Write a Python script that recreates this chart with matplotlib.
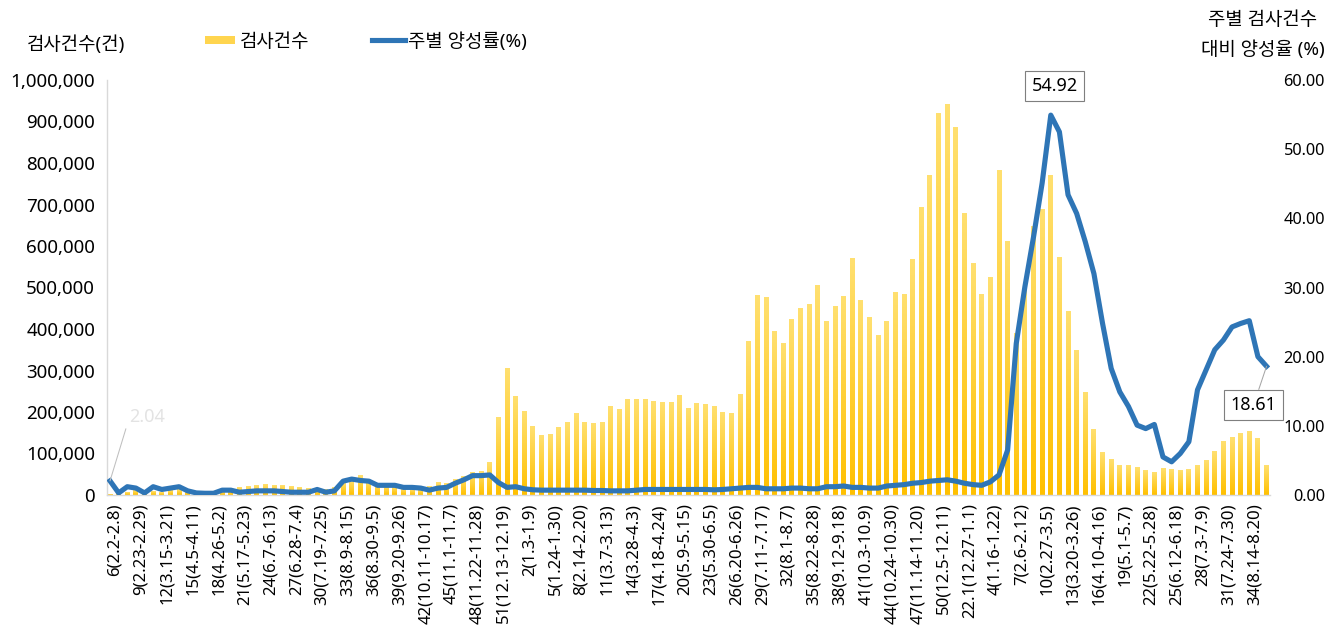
import numpy as np
import matplotlib
matplotlib.use('Agg')
import matplotlib.pyplot as plt
import matplotlib.transforms as mtransforms
from matplotlib.colors import LinearSegmentedColormap
from matplotlib.patches import Rectangle
from matplotlib.lines import Line2D
from matplotlib.ticker import FuncFormatter, FixedLocator, MultipleLocator

plt.rcParams['font.family'] = ['Noto Sans', 'Noto Sans CJK KR']

# weekly test counts (건)
tests = [
    2000, 4000, 6000, 10000, 8000, 9000, 7000, 10000, 13000, 9000,
    7000, 6000, 7000, 9000, 13000, 17000, 21000, 24000, 26000, 23000,
    22000, 20000, 18000, 16000, 14000, 13000, 18000, 30000, 36000, 47000,
    34000, 26000, 22000, 20000, 16000, 14000, 14000, 20000, 30000, 27000,
    37000, 45000, 55000, 57000, 78000, 186000, 305000, 237000, 202000, 165000,
    143000, 146000, 162000, 174000, 197000, 174000, 172000, 174000, 213000, 207000,
    231000, 229000, 230000, 226000, 224000, 222000, 239000, 209000, 221000, 217000,
    214000, 198000, 197000, 243000, 369000, 481000, 476000, 395000, 364000, 423000,
    449000, 458000, 506000, 419000, 455000, 478000, 570000, 469000, 427000, 384000,
    419000, 489000, 484000, 568000, 693000, 771000, 920000, 940000, 886000, 678000,
    557000, 483000, 525000, 783000, 612000, 390000, 496000, 647000, 689000, 771000,
    573000, 443000, 348000, 247000, 157000, 102000, 86000, 71000, 71000, 66000,
    60000, 55000, 63000, 62000, 59000, 62000, 71000, 84000, 104000, 128000,
    138000, 147000, 154000, 137000, 70000,
]

# weekly positivity rate (%)
positivity = [
    2.04, 0.3, 1.2, 1.0, 0.3, 1.2, 0.8, 1.0, 1.2, 0.6,
    0.3, 0.25, 0.25, 0.7, 0.7, 0.4, 0.5, 0.6, 0.6, 0.6,
    0.5, 0.4, 0.4, 0.4, 0.8, 0.4, 0.6, 2.0, 2.3, 2.1,
    2.0, 1.4, 1.4, 1.4, 1.1, 1.1, 1.0, 0.7, 1.0, 1.1,
    1.7, 2.2, 2.8, 2.8, 2.9, 1.8, 1.1, 1.2, 0.9, 0.75,
    0.7, 0.7, 0.7, 0.7, 0.7, 0.7, 0.65, 0.65, 0.6, 0.6,
    0.6, 0.7, 0.8, 0.8, 0.8, 0.8, 0.8, 0.8, 0.8, 0.8,
    0.75, 0.8, 0.9, 1.0, 1.1, 1.1, 0.9, 0.9, 0.9, 1.0,
    1.0, 0.9, 0.9, 1.2, 1.2, 1.3, 1.1, 1.1, 1.0, 1.0,
    1.3, 1.4, 1.5, 1.7, 1.8, 2.0, 2.1, 2.2, 2.0, 1.7,
    1.5, 1.4, 1.9, 2.9, 6.5, 21.9, 30.1, 37.3, 45.1, 54.92,
    52.5, 43.4, 40.7, 36.6, 32.0, 24.8, 18.3, 14.9, 12.8, 10.1,
    9.6, 10.2, 5.5, 4.8, 6.0, 7.7, 15.2, 18.1, 21.0, 22.4,
    24.3, 24.8, 25.2, 20.0, 18.61,
]

# category labels shown (every 3rd week)
tick_labels = [
    "6(2.2-2.8)", "9(2.23-2.29)", "12(3.15-3.21)", "15(4.5-4.11)", "18(4.26-5.2)",
    "21(5.17-5.23)", "24(6.7-6.13)", "27(6.28-7.4)", "30(7.19-7.25)", "33(8.9-8.15)",
    "36(8.30-9.5)", "39(9.20-9.26)", "42(10.11-10.17)", "45(11.1-11.7)", "48(11.22-11.28)",
    "51(12.13-12.19)", "2(1.3-1.9)", "5(1.24-1.30)", "8(2.14-2.20)", "11(3.7-3.13)",
    "14(3.28-4.3)", "17(4.18-4.24)", "20(5.9-5.15)", "23(5.30-6.5)", "26(6.20-6.26)",
    "29(7.11-7.17)", "32(8.1-8.7)", "35(8.22-8.28)", "38(9.12-9.18)", "41(10.3-10.9)",
    "44(10.24-10.30)", "47(11.14-11.20)", "50(12.5-12.11)", "22.1(12.27-1.1)", "4(1.16-1.22)",
    "7(2.6-2.12)", "10(2.27-3.5)", "13(3.20-3.26)", "16(4.10-4.16)", "19(5.1-5.7)",
    "22(5.22-5.28)", "25(6.12-6.18)", "28(7.3-7.9)", "31(7.24-7.30)", "34(8.14-8.20)",
]
tick_step = 3

W, H = 1340, 629
fig = plt.figure(figsize=(W / 100, H / 100), dpi=100)


def fx(px):
    return px / W


def fy(py):
    return 1 - py / H


ax = fig.add_axes([fx(107), fy(495), fx(1270) - fx(107), fy(80) - fy(495)])
x = np.arange(len(tests))
bars = ax.bar(x, tests, width=0.57, color='none', edgecolor='none')
cmap = LinearSegmentedColormap.from_list('yel', ['#FFC000', '#FFE070'])
grad = np.linspace(0, 1, 128).reshape(-1, 1)
for b in bars:
    x0, w, h = b.get_x(), b.get_width(), b.get_height()
    ax.imshow(grad, cmap=cmap, extent=(x0, x0 + w, 0, h), origin='lower',
              aspect='auto', interpolation='bilinear', zorder=2)

ax.set_xlim(-0.35, len(tests) - 1 + 0.4)
ax.set_ylim(0, 1_000_000)
ax.yaxis.set_major_locator(MultipleLocator(100_000))
ax.yaxis.set_major_formatter(FuncFormatter(lambda v, p: f'{int(v):,}'))
ax.xaxis.set_major_locator(FixedLocator(x[::tick_step][:len(tick_labels)]))
ax.set_xticklabels(tick_labels, rotation=90, ha='center', va='top')
ax.tick_params(axis='x', length=0, pad=6, labelsize=12.1)
ax.tick_params(axis='y', length=0, pad=8.6, labelsize=13.5)
shift = mtransforms.ScaledTranslation(5 / 100, 0, fig.dpi_scale_trans)
for lab in ax.get_xticklabels():
    lab.set_transform(lab.get_transform() + shift)
for s in ['top', 'right']:
    ax.spines[s].set_visible(False)
for s in ['left', 'bottom']:
    ax.spines[s].set_color('#D9D9D9')
    ax.spines[s].set_linewidth(1.0)

ax2 = ax.twinx()
ax2.plot(x, positivity, color='#2E75B6', lw=3.7, solid_joinstyle='round', zorder=5)
ax2.set_ylim(0, 60)
ax2.yaxis.set_major_locator(MultipleLocator(10))
ax2.yaxis.set_major_formatter(FuncFormatter(lambda v, p: f'{v:.2f}'))
ax2.tick_params(axis='y', length=0, pad=39.6, labelsize=11.8)
for lab in ax2.get_yticklabels():
    lab.set_ha('right')
for s in ax2.spines.values():
    s.set_visible(False)

# data labels
pk = int(np.argmax(positivity))
ax2.annotate(f'{positivity[pk]:.2f}', xy=(pk, positivity[pk]), xytext=(3, 21),
             textcoords='offset points', ha='center', va='center', fontsize=13,
             bbox=dict(boxstyle='square,pad=0.35', fc='white', ec='#7F7F7F', lw=0.8),
             zorder=10)
last = len(positivity) - 1
ax2.annotate(f'{positivity[last]:.2f}', xy=(last, positivity[last]), xytext=(-9.4, -28),
             textcoords='offset points', ha='center', va='center', fontsize=13,
             bbox=dict(boxstyle='square,pad=0.35', fc='white', ec='#7F7F7F', lw=0.8),
             arrowprops=dict(arrowstyle='-', color='#A6A6A6', lw=0.75, shrinkA=0, shrinkB=0),
             zorder=10)
ax2.annotate(f'{positivity[0]:.2f}', xy=(0, positivity[0]), xytext=(14, 46),
             textcoords='offset points', ha='left', va='center', fontsize=13,
             color='#E3E3E3',
             arrowprops=dict(arrowstyle='-', color='#BFBFBF', lw=0.75, shrinkA=2, shrinkB=0,
                             relpos=(0, 0.5)),
             zorder=10)

# titles & legend
kfs = 13.6
fig.text(fx(27), fy(45), '검사건수(건)', ha='left', va='center', fontsize=kfs)
fig.text(fx(1263), fy(20), '주별 검사건수', ha='center', va='center', fontsize=kfs)
fig.text(fx(1263), fy(50), '대비 양성율 (%)', ha='center', va='center', fontsize=kfs)
fig.patches.append(Rectangle((fx(205), fy(44)), fx(235) - fx(205), fy(36) - fy(44),
                             transform=fig.transFigure, facecolor='#FFD54F', edgecolor='none'))
fig.text(fx(240), fy(42), '검사건수', ha='left', va='center', fontsize=kfs)
fig.lines.append(Line2D([fx(372), fx(405)], [fy(40), fy(40)], lw=3.7, color='#2E75B6',
                        transform=fig.transFigure))
fig.text(fx(408), fy(42), '주별 양성률(%)', ha='left', va='center', fontsize=kfs)

fig.savefig('out.png', dpi=100)
